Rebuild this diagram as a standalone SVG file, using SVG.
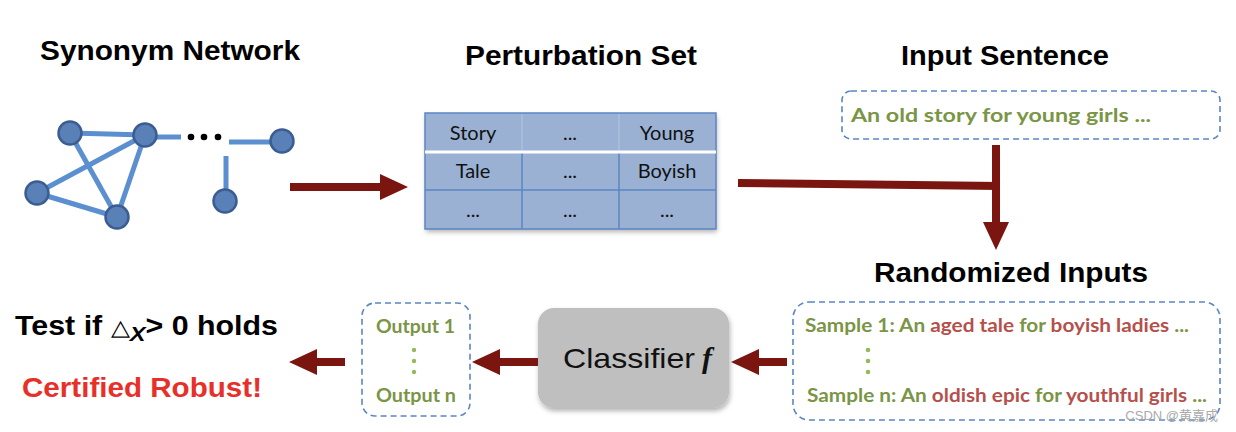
<svg xmlns="http://www.w3.org/2000/svg" width="1236" height="432" viewBox="0 0 1236 432">
<style>
.title{font-family:"Liberation Sans",Arial,sans-serif;font-weight:bold;font-size:27px;fill:#000}
.edge{stroke:#5b8fd0;stroke-width:5;stroke-linecap:butt}
.node{fill:#5a80b8;stroke:#3b5d92;stroke-width:2.5}
.conn{stroke:#7a150f;stroke-width:8;fill:none}
.cell{font-family:Lato,"Open Sans",sans-serif;font-size:20px;fill:#111;text-anchor:middle}
.dash{fill:#fff;stroke:#5b86c3;stroke-width:1.6;stroke-dasharray:6 4}
.g{font-family:Lato,"Open Sans",sans-serif;font-weight:bold;font-size:19px;fill:#7a9546}
.r{fill:#b5504b}
.dot{fill:#98b85c}
</style>
<defs>
<marker id="ah" markerUnits="userSpaceOnUse" markerWidth="30" markerHeight="30" refX="1" refY="13" orient="auto">
<path d="M0,0 L28,13 L0,26 z" fill="#7a150f"/>
</marker>
<filter id="sh" x="-10%" y="-10%" width="125%" height="130%">
<feDropShadow dx="1" dy="3" stdDeviation="2.5" flood-color="#000" flood-opacity="0.3"/>
</filter>
</defs>
<rect width="1236" height="432" fill="#fff"/>

<g id="synonym-network">
<text class="title" x="170" y="60" text-anchor="middle" textLength="260" lengthAdjust="spacingAndGlyphs">Synonym  Network</text>
<line class="edge" x1="70" y1="133" x2="145" y2="135"/>
<line class="edge" x1="70" y1="133" x2="117" y2="217"/>
<line class="edge" x1="145" y1="135" x2="37" y2="193"/>
<line class="edge" x1="145" y1="135" x2="117" y2="217"/>
<line class="edge" x1="37" y1="193" x2="117" y2="217"/>
<line class="edge" x1="145" y1="137" x2="181" y2="137"/>
<line class="edge" x1="229" y1="142" x2="282" y2="142"/>
<line class="edge" x1="226" y1="156" x2="226" y2="200"/>
<circle fill="#000" cx="191" cy="137" r="3.3"/>
<circle fill="#000" cx="204" cy="137" r="3.3"/>
<circle fill="#000" cx="218" cy="137" r="3.3"/>
<circle class="node" cx="70" cy="133" r="11.5"/>
<circle class="node" cx="145" cy="135" r="11.5"/>
<circle class="node" cx="37" cy="193" r="11.5"/>
<circle class="node" cx="117" cy="217" r="11.5"/>
<circle class="node" cx="282" cy="141" r="11.5"/>
<circle class="node" cx="225" cy="201" r="11.5"/>
</g>

<g id="perturbation-set">
<text class="title" x="581" y="65" text-anchor="middle" textLength="232" lengthAdjust="spacingAndGlyphs">Perturbation Set</text>
<rect x="425" y="113" width="291" height="116" fill="#9ab1d4" filter="url(#sh)"/>
<g stroke="#5b86c3" stroke-width="1.5" fill="none">
<rect x="425" y="113" width="291" height="116"/>
<line x1="425" y1="190" x2="716" y2="190"/>
<line x1="522" y1="152" x2="522" y2="229"/>
<line x1="619" y1="152" x2="619" y2="229"/>
</g>
<g stroke="#b3c6e2" stroke-width="1">
<line x1="522" y1="114" x2="522" y2="151"/>
<line x1="619" y1="114" x2="619" y2="151"/>
</g>
<line x1="425" y1="152" x2="716" y2="152" stroke="#fff" stroke-width="3"/>
<text class="cell" x="473" y="140">Story</text>
<text class="cell" x="570" y="140">...</text>
<text class="cell" x="667" y="140">Young</text>
<text class="cell" x="473" y="178">Tale</text>
<text class="cell" x="570" y="178">...</text>
<text class="cell" x="667" y="178">Boyish</text>
<text class="cell" x="473" y="217">...</text>
<text class="cell" x="570" y="217">...</text>
<text class="cell" x="667" y="217">...</text>
</g>

<g id="input-sentence">
<text class="title" x="1005" y="65" text-anchor="middle" textLength="208" lengthAdjust="spacingAndGlyphs">Input Sentence</text>
<rect class="dash" x="842" y="91" width="378" height="48" rx="9"/>
<text class="g" x="851" y="122" textLength="300" lengthAdjust="spacingAndGlyphs">An old  story for young girls ...</text>
</g>

<g id="randomized-inputs">
<text class="title" x="1011" y="282" text-anchor="middle" textLength="274" lengthAdjust="spacingAndGlyphs">Randomized Inputs</text>
<rect class="dash" x="793" y="302" width="427" height="118" rx="16"/>
<text class="g" x="805" y="332" font-size="18" textLength="384" lengthAdjust="spacingAndGlyphs">Sample 1: An <tspan class="r">aged tale</tspan> for <tspan class="r">boyish  ladies</tspan> ...</text>
<circle class="dot" cx="868" cy="350" r="2.3"/>
<circle class="dot" cx="868" cy="361" r="2.3"/>
<circle class="dot" cx="868" cy="372" r="2.3"/>
<text class="g" x="807" y="402" font-size="18" textLength="400" lengthAdjust="spacingAndGlyphs">Sample n: An <tspan class="r">oldish epic</tspan> for <tspan class="r">youthful girls</tspan> ...</text>
</g>

<g id="classifier">
<rect x="538" y="308" width="191" height="100" rx="16" fill="#bfbfbf" filter="url(#sh)"/>
<text x="563" y="368" font-family="'Liberation Sans',Arial,sans-serif" font-size="28" fill="#111" textLength="132" lengthAdjust="spacingAndGlyphs">Classifier</text>
<text x="702" y="368" font-family="'Liberation Serif','Times New Roman',serif" font-style="italic" font-weight="bold" font-size="30" fill="#111">f</text>
</g>

<g id="outputs">
<rect class="dash" x="362" y="303" width="108" height="113" rx="13"/>
<text class="g" x="376" y="333" font-size="18" textLength="79" lengthAdjust="spacingAndGlyphs">Output 1</text>
<circle class="dot" cx="414" cy="350" r="2.2"/>
<circle class="dot" cx="414" cy="361" r="2.2"/>
<circle class="dot" cx="414" cy="372" r="2.2"/>
<text class="g" x="376" y="402" font-size="18" textLength="80" lengthAdjust="spacingAndGlyphs">Output n</text>
</g>

<g id="result">
<text x="15" y="335" font-family="'Liberation Sans',Arial,sans-serif" font-weight="bold" font-size="27" fill="#000" textLength="263" lengthAdjust="spacingAndGlyphs">Test  if <tspan font-weight="normal" font-size="22">△</tspan><tspan font-style="italic" font-size="21" dy="6">X</tspan><tspan dy="-6">&gt; 0 holds</tspan></text>
<text x="22" y="397" font-family="'Liberation Sans',Arial,sans-serif" font-weight="bold" font-size="27" fill="#e8302a" textLength="240" lengthAdjust="spacingAndGlyphs">Certified Robust!</text>
</g>

<g id="connectors">
<line class="conn" x1="290" y1="187" x2="381" y2="187" marker-end="url(#ah)"/>
<line class="conn" x1="738" y1="183" x2="1000" y2="186"/>
<line class="conn" x1="996" y1="145" x2="996" y2="223" marker-end="url(#ah)"/>
<line class="conn" x1="787" y1="362" x2="758" y2="362" marker-end="url(#ah)"/>
<line class="conn" x1="538" y1="362" x2="499" y2="362" marker-end="url(#ah)"/>
<line class="conn" x1="345" y1="362" x2="316" y2="362" marker-end="url(#ah)"/>
</g>

<text x="1218" y="420" text-anchor="end" font-family="'Liberation Sans','Noto Sans CJK SC',sans-serif" font-size="13" fill="#aaa">CSDN @黄嘉成</text>
</svg>
